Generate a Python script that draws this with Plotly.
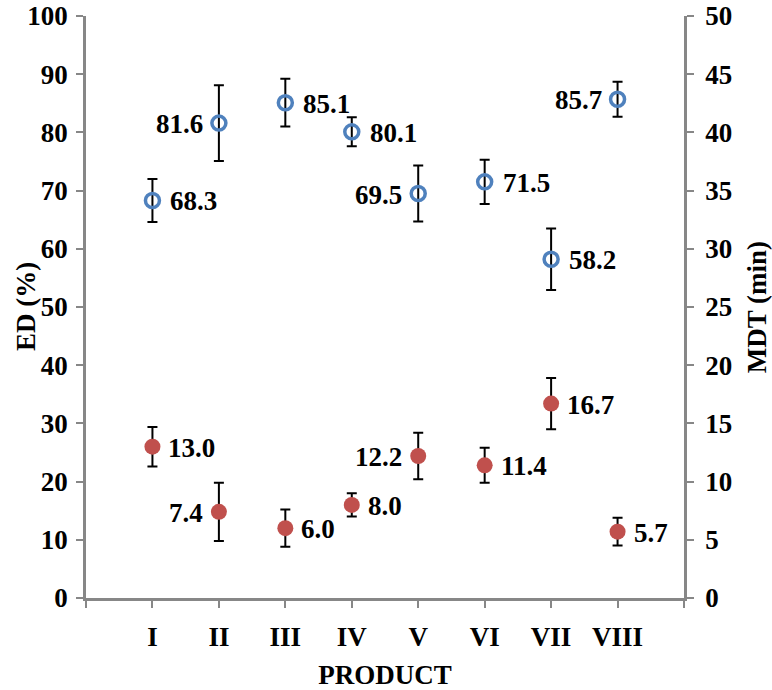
import plotly.graph_objects as go

products = ["I", "II", "III", "IV", "V", "VI", "VII", "VIII"]
ed_values = [68.3, 81.6, 85.1, 80.1, 69.5, 71.5, 58.2, 85.7]
ed_errors = [3.7, 6.5, 4.1, 2.5, 4.8, 3.8, 5.3, 3.0]
mdt_values = [13.0, 7.4, 6.0, 8.0, 12.2, 11.4, 16.7, 5.7]
mdt_errors = [1.7, 2.5, 1.6, 1.0, 2.0, 1.5, 2.2, 1.2]
ed_label_side = ["right", "left", "right", "right", "left", "right", "right", "left"]
mdt_label_side = ["right", "left", "right", "right", "left", "right", "right", "right"]

x_pos = list(range(1, len(products) + 1))
FONT = "Liberation Serif"
GREY = "#878787"
FS = 27
TF = dict(family=FONT, size=FS, color="black", weight="bold")

fig = go.Figure()
fig.add_trace(go.Scatter(
    x=x_pos, y=ed_values, mode="markers",
    marker=dict(symbol="circle-open", size=14, color="#4F81BD", line=dict(width=3.5, color="#4F81BD")),
    error_y=dict(type="data", array=ed_errors, color="black", thickness=2, width=5),
    yaxis="y", showlegend=False, cliponaxis=False))
fig.add_trace(go.Scatter(
    x=x_pos, y=mdt_values, mode="markers",
    marker=dict(symbol="circle", size=16, color="#C0504D"),
    error_y=dict(type="data", array=mdt_errors, color="black", thickness=2, width=5),
    yaxis="y2", showlegend=False, cliponaxis=False))

annotations = []
for xv, v, side in zip(x_pos, ed_values, ed_label_side):
    annotations.append(dict(x=xv, y=v, xref="x", yref="y", text=f"{v:.1f}",
                            showarrow=False, font=TF,
                            xanchor="left" if side == "right" else "right",
                            xshift=16 if side == "right" else -14, yshift=-1))
for xv, v, side in zip(x_pos, mdt_values, mdt_label_side):
    annotations.append(dict(x=xv, y=v, xref="x", yref="y2", text=f"{v:.1f}",
                            showarrow=False, font=TF,
                            xanchor="left" if side == "right" else "right",
                            xshift=14 if side == "right" else -14, yshift=-1))
# left axis title
annotations.append(dict(x=0, y=0.5, xref="paper", yref="paper", text="ED (%)",
                        textangle=-90, showarrow=False, font=TF,
                        xanchor="center", yanchor="middle", xshift=-60))

axis_common = dict(showgrid=False, zeroline=False, showline=True, linecolor=GREY, linewidth=2.5,
                   ticks="outside", ticklen=7, tickwidth=2, tickcolor=GREY,
                   tickfont=TF, automargin=False, ticklabeloverflow="allow")

fig.update_layout(
    width=772, height=690,
    margin=dict(l=86, r=88, t=16, b=92),
    paper_bgcolor="white", plot_bgcolor="white",
    font=TF,
    annotations=annotations,
    xaxis=dict(range=[0, 9], tickvals=list(range(0, 10)),
               ticktext=[""] + products + [""], ticklabelstandoff=6,
               title=dict(text="PRODUCT", standoff=18, font=TF), **axis_common),
    yaxis=dict(range=[0, 100], dtick=10, ticklabelstandoff=3, **axis_common),
    yaxis2=dict(range=[0, 50], dtick=5, overlaying="y", side="right", ticklabelstandoff=6,
                title=dict(text="MDT (min)", standoff=18, font=TF), **axis_common),
)

fig.write_html("out.html", config={"displayModeBar": False},
               post_script="document.body.style.margin='0';document.body.style.overflow='hidden';")
